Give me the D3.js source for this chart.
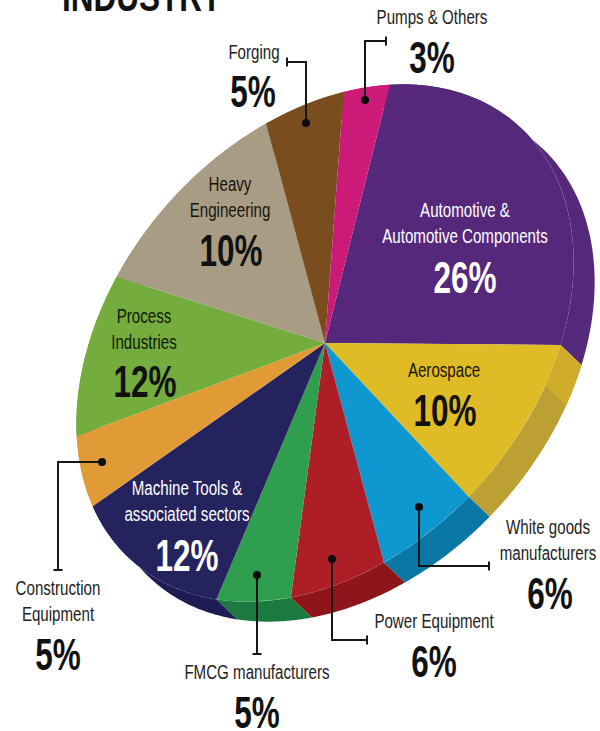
<!DOCTYPE html>
<html>
<head>
<meta charset="utf-8">
<script src="https://cdn.jsdelivr.net/npm/d3@7"></script>
<style>
  html, body { margin: 0; padding: 0; background: #fff; }
  svg { display: block; }
  text { font-family: "Liberation Sans", sans-serif; text-anchor: middle; }
</style>
</head>
<body>
<script>
let width = 600
let height = 731

// clockwise from the top of the purple slice
let categories = [
  'Automotive &\nAutomotive Components',
  'Aerospace',
  'White goods\nmanufacturers',
  'Power Equipment',
  'FMCG manufacturers',
  'Machine Tools &\nassociated sectors',
  'Construction\nEquipment',
  'Process\nIndustries',
  'Heavy\nEngineering',
  'Forging',
  'Pumps & Others'
]
// percentages as printed
let printed = [26, 10, 6, 6, 5, 12, 5, 12, 10, 5, 3]
// wedge sizes as drawn: in the picture Process and Heavy Engineering are
// drawn at 10 and 12, the other way round from their printed labels
let shares = [26, 10, 6, 6, 5, 12, 5, 10, 12, 5, 3]

let topColors = ['#55287b', '#dfbb25', '#0f97cf', '#ae1e26', '#2f9e4f', '#25235e', '#e09b36', '#74ac3d', '#a99c85', '#7a4d1f', '#cb1a78']
let sideColors = ['#54287a', '#bda034', '#0a78a4', '#8e1519', '#1c7a40', '#1e1c52', '#e09b36', '#74ac3d', '#a99c85', '#7a4d1f', '#cb1a78']
let inkColors = ['#fff', '#1a1408', '#222', '#222', '#222', '#fff', '#222', '#0f1a08', '#17130c', '#222', '#222']

let nameX = [465, 444, 548, 434, 257, 187, 58, 144, 230, 254, 432]
let nameY = [217, 377, 534, 628, 679, 495, 595, 323, 191, 59, 24]
let pctX = [465, 445, 550, 434, 257, 187, 58, 145, 231, 253, 432]
let pctY = [293, 426, 609, 677, 728, 571, 670, 397, 266, 107, 73]

// leader lines: dot first, tick end last
let leaders = [
  [[419, 507], [419, 566], [489, 566]],
  [[332, 559], [332, 640], [367, 640]],
  [[257, 575], [257, 654]],
  [[102, 462], [58, 462], [58, 570]],
  [[306, 123], [306, 62], [287, 62]],
  [[365, 100], [365, 41], [386, 41]]
]

// the top face is a circle squashed into a tilted ellipse round the centre
let cx = 325
let cy = 343
let R = 100
let tilt = [192.4 / R, -218.3 / R, 157.5 / R, 138.8 / R]
let depth = [21, 20]
let startAngle = 54.4 * Math.PI / 180
let lightBand = 2.5 // share of the yellow side that is lighter

function project(a) {
  let u = R * Math.sin(a)
  let v = -R * Math.cos(a)
  return [cx + tilt[0] * u + tilt[2] * v, cy + tilt[1] * u + tilt[3] * v]
}

let svg = d3.select('body')
  .append('svg')
  .attr('width', width)
  .attr('height', height)

let pie = d3.pie()
  .sort(null)
  .startAngle(startAngle)
  .endAngle(startAngle + 2 * Math.PI)

let slices = pie(shares)
let arc = d3.arc().innerRadius(0).outerRadius(R)
let line = d3.line()

function sidePath(a0, a1) {
  let n = 60
  let angles = d3.range(n + 1).map(i => a0 + (a1 - a0) * i / n)
  let near = angles.map(project)
  let far = near.map(p => [p[0] + depth[0], p[1] + depth[1]]).reverse()
  return line(near.concat(far)) + 'Z'
}

svg.append('g')
  .selectAll('path')
  .data(slices)
  .enter()
  .append('path')
  .attr('d', d => sidePath(d.startAngle, d.endAngle))
  .attr('fill', (d, i) => sideColors[i])

// lighter start of the yellow side
let yellow = slices[1]
svg.append('path')
  .attr('d', sidePath(yellow.startAngle, yellow.startAngle + lightBand / 100 * 2 * Math.PI))
  .attr('fill', '#cfac2c')

svg.append('g')
  .attr('transform', `matrix(${tilt.join(',')},${cx},${cy})`)
  .selectAll('path')
  .data(slices)
  .enter()
  .append('path')
  .attr('d', arc)
  .attr('fill', (d, i) => topColors[i])

let leaderG = svg.append('g')
leaderG.selectAll('path')
  .data(leaders)
  .enter()
  .append('path')
  .attr('d', d => line(d))
  .attr('fill', 'none')
  .attr('stroke', '#161616')
  .attr('stroke-width', 2)

leaderG.selectAll('circle')
  .data(leaders)
  .enter()
  .append('circle')
  .attr('cx', d => d[0][0])
  .attr('cy', d => d[0][1])
  .attr('r', 4)
  .attr('fill', '#0c0c0c')

leaderG.selectAll('line')
  .data(leaders)
  .enter()
  .append('line')
  .each(function (d) {
    let end = d[d.length - 1]
    let prev = d[d.length - 2]
    let across = prev[0] === end[0] ? [4.5, 0] : [0, 4.5]
    d3.select(this)
      .attr('x1', end[0] - across[0])
      .attr('y1', end[1] - across[1])
      .attr('x2', end[0] + across[0])
      .attr('y2', end[1] + across[1])
  })
  .attr('stroke', '#161616')
  .attr('stroke-width', 2)

// the lettering is condensed, so the regular face is squeezed sideways
function label(x, y, squeeze) {
  return svg.append('text')
    .attr('transform', `translate(${x},${y}) scale(${squeeze},1)`)
}

categories.forEach((name, i) => {
  name.split('\n').forEach((part, j) => {
    label(nameX[i], nameY[i] + j * 26, 0.72)
      .attr('font-size', 21)
      .attr('fill', inkColors[i])
      .text(part)
  })
  label(pctX[i], pctY[i], 0.7)
    .attr('font-size', 45)
    .attr('font-weight', 'bold')
    .attr('fill', inkColors[i] === '#fff' ? '#fff' : '#111')
    .text(printed[i] + '%')
})

label(142, 11, 0.75)
  .attr('font-size', 42)
  .attr('font-weight', 'bold')
  .attr('fill', '#111')
  .text('INDUSTRY')
</script>
</body>
</html>
